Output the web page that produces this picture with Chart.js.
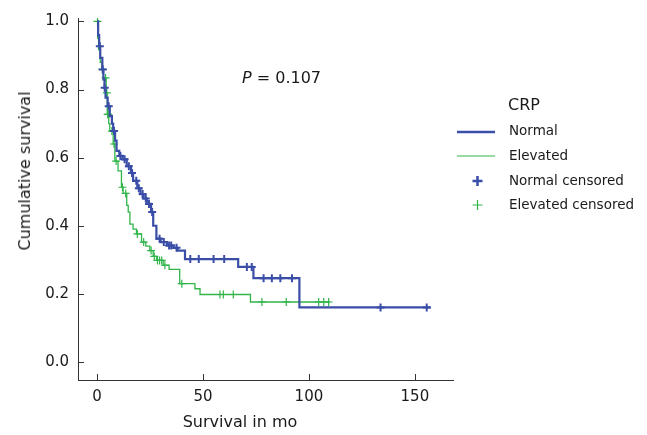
<!DOCTYPE html>
<html><head><meta charset="utf-8">
<script src="https://cdn.jsdelivr.net/npm/chart.js@4.4.1/dist/chart.umd.min.js"></script>
<style>
html,body{margin:0;padding:0;background:#fff;}
#wrap{position:relative;width:647px;height:435px;overflow:hidden;}
canvas{position:absolute;left:0;top:0;}
.t{position:absolute;font-family:"DejaVu Sans",sans-serif;color:#1a1a1a;white-space:nowrap;line-height:1;}
</style></head><body>
<div id="wrap">
<canvas id="c" width="647" height="435"></canvas>
<div class="t" id="ytitle" style="left:25px;top:171px;font-size:16px;transform:translate(-50%,-50%) rotate(-90deg);">Cumulative survival</div>
<div class="t" id="xtitle" style="left:240px;top:422px;font-size:16px;transform:translate(-50%,-50%);">Survival in mo</div>
<div class="t" style="left:242px;top:78px;font-size:16px;transform:translate(0,-50%);"><i>P</i> = 0.107</div>
<div class="t" style="left:508px;top:105px;font-size:16px;transform:translate(0,-50%);">CRP</div>
<div class="t" style="left:509px;top:131px;font-size:13.5px;transform:translate(0,-50%);">Normal</div>
<div class="t" style="left:509px;top:156px;font-size:13.5px;transform:translate(0,-50%);">Elevated</div>
<div class="t" style="left:509px;top:181px;font-size:13.5px;transform:translate(0,-50%);">Normal censored</div>
<div class="t" style="left:509px;top:205px;font-size:13.5px;transform:translate(0,-50%);">Elevated censored</div>
</div>
<script>
// ---- Data ----
const xTickValues = [0, 50, 100, 150];
const yTickValues = [0, 0.2, 0.4, 0.6, 0.8, 1.0];

// Normal CRP: step times and survival after each step
const normalTimes = [0, 0.5, 1, 1.5, 2.5, 3, 3.5, 4, 5, 6, 7, 7.6, 8.5, 9.2, 10.5, 12, 14, 16, 17, 19, 20.5, 22, 23.5, 25.5, 26.5, 28, 30, 33, 36, 38, 41.5, 66.6, 73.8, 95.5, 157.5];
const normalSurv  = [1.0, 0.96, 0.927, 0.893, 0.859, 0.83, 0.805, 0.776, 0.751, 0.722, 0.70, 0.678, 0.65, 0.62, 0.605, 0.595, 0.575, 0.555, 0.532, 0.51, 0.493, 0.48, 0.464, 0.44, 0.40, 0.362, 0.352, 0.342, 0.335, 0.327, 0.302, 0.279, 0.246, 0.16, 0.16];
const normalCensored = [1.3, 2.7, 3.6, 5.5, 8, 11, 13, 15, 16.5, 18.5, 19.7, 21.5, 23, 24.5, 26, 29.5, 31.5, 34, 35, 37.5, 44, 48, 55, 60, 70.7, 73, 78.6, 82.5, 86.5, 92, 133.8, 155.6];

// Elevated CRP
const elevatedTimes = [0, 0.3, 0.7, 1.5, 2.2, 3, 4.3, 4.8, 5.5, 6, 7.6, 8.4, 9.9, 11.5, 12.3, 14, 14.7, 15.5, 17, 18.6, 21, 23, 24.9, 26.5, 28.1, 31.2, 34, 39, 46.2, 48.6, 72.4, 110];
const elevatedSurv  = [1.0, 0.95, 0.917, 0.88, 0.859, 0.834, 0.79, 0.727, 0.70, 0.678, 0.64, 0.59, 0.561, 0.513, 0.495, 0.46, 0.44, 0.405, 0.39, 0.376, 0.352, 0.34, 0.327, 0.31, 0.298, 0.284, 0.272, 0.23, 0.215, 0.198, 0.176, 0.176];
const elevatedCensored = [0.2, 2.5, 4, 4.6, 5, 5.3, 7, 8, 9, 12, 13.5, 19, 22, 25.5, 27, 28.5, 29.5, 30.5, 32, 40, 58, 59.6, 64.3, 77.8, 89.3, 104.6, 107, 109.3];

// ---- Build chart data ----
function survAt(times, surv, t) {
  let s = surv[0];
  for (let i = 0; i < times.length; i++) { if (times[i] <= t) s = surv[i]; else break; }
  return s;
}
const BLUE = '#3a4ea8';
const GREEN = '#31b54a';

const normalLine = normalTimes.map((t, i) => ({x: t, y: normalSurv[i]}));
const elevatedLine = elevatedTimes.map((t, i) => ({x: t, y: elevatedSurv[i]}));
const normalCens = normalCensored.map(t => ({x: t, y: survAt(normalTimes, normalSurv, t)}));
const elevatedCens = elevatedCensored.map(t => ({x: t, y: survAt(elevatedTimes, elevatedSurv, t)}));

const FONT = {family: '"DejaVu Sans", sans-serif', size: 15};

const tickPlugin = {
  id: 'inwardTicks',
  afterDraw(chart) {
    const ctx = chart.ctx;
    const xs = chart.scales.x, ys = chart.scales.y;
    const a = chart.chartArea;
    ctx.save();
    ctx.strokeStyle = '#333';
    ctx.lineWidth = 1;
    ctx.beginPath();
    xTickValues.forEach(v => {
      const px = Math.round(xs.getPixelForValue(v)) + 0.5;
      ctx.moveTo(px, a.bottom); ctx.lineTo(px, a.bottom - 6);
    });
    yTickValues.forEach(v => {
      const py = Math.round(ys.getPixelForValue(v)) + 0.5;
      ctx.moveTo(a.left, py); ctx.lineTo(a.left + 6, py);
    });
    ctx.stroke();
    // legend symbols
    ctx.lineCap = 'butt';
    ctx.strokeStyle = BLUE; ctx.lineWidth = 2.5;
    ctx.beginPath(); ctx.moveTo(457, 132); ctx.lineTo(495, 132); ctx.stroke();
    ctx.strokeStyle = GREEN; ctx.lineWidth = 1.2;
    ctx.beginPath(); ctx.moveTo(457, 156); ctx.lineTo(495, 156); ctx.stroke();
    ctx.strokeStyle = BLUE; ctx.lineWidth = 2.5;
    ctx.beginPath(); ctx.moveTo(472.5, 181); ctx.lineTo(482.5, 181); ctx.moveTo(477.5, 176); ctx.lineTo(477.5, 186); ctx.stroke();
    ctx.strokeStyle = GREEN; ctx.lineWidth = 1.2;
    ctx.beginPath(); ctx.moveTo(472.5, 205); ctx.lineTo(482.5, 205); ctx.moveTo(477.5, 200); ctx.lineTo(477.5, 210); ctx.stroke();
    ctx.restore();
  }
};

new Chart(document.getElementById('c'), {
  type: 'line',
  data: {
    datasets: [
      {label: 'Normal', data: normalLine, stepped: true, borderColor: BLUE, borderWidth: 2.2, pointRadius: 0, fill: false},
      {label: 'Normal censored', data: normalCens, showLine: false, pointStyle: 'cross', pointRadius: 4, borderColor: BLUE, pointBorderWidth: 2, backgroundColor: BLUE},
      {label: 'Elevated', data: elevatedLine, stepped: true, borderColor: GREEN, borderWidth: 1.3, pointRadius: 0, fill: false},
      {label: 'Elevated censored', data: elevatedCens, showLine: false, pointStyle: 'cross', pointRadius: 4, borderColor: GREEN, pointBorderWidth: 1.2, backgroundColor: GREEN}
    ]
  },
  options: {
    responsive: false,
    animation: false,
    events: [],
    layout: {padding: {top: 17, right: 194, left: 0, bottom: 0}},
    plugins: {legend: {display: false}, tooltip: {enabled: false}},
    scales: {
      x: {
        type: 'linear', min: -9, max: 168,
        afterBuildTicks: s => { s.ticks = xTickValues.map(v => ({value: v})); },
        afterFit: s => { s.height = 55; },
        grid: {display: true, drawOnChartArea: false, drawTicks: false},
        border: {display: true, color: '#333', width: 1},
        ticks: {font: FONT, color: '#1a1a1a', padding: 8, maxRotation: 0}
      },
      y: {
        type: 'linear', min: -0.053, max: 1.01,
        afterBuildTicks: s => { s.ticks = yTickValues.map(v => ({value: v})); },
        afterFit: s => { s.width = 78; },
        grid: {display: true, drawOnChartArea: false, drawTicks: false},
        border: {display: true, color: '#333', width: 1},
        ticks: {font: FONT, color: '#1a1a1a', padding: 9, callback: v => Number(v).toFixed(1)}
      }
    }
  },
  plugins: [tickPlugin]
});
</script>
</body></html>
